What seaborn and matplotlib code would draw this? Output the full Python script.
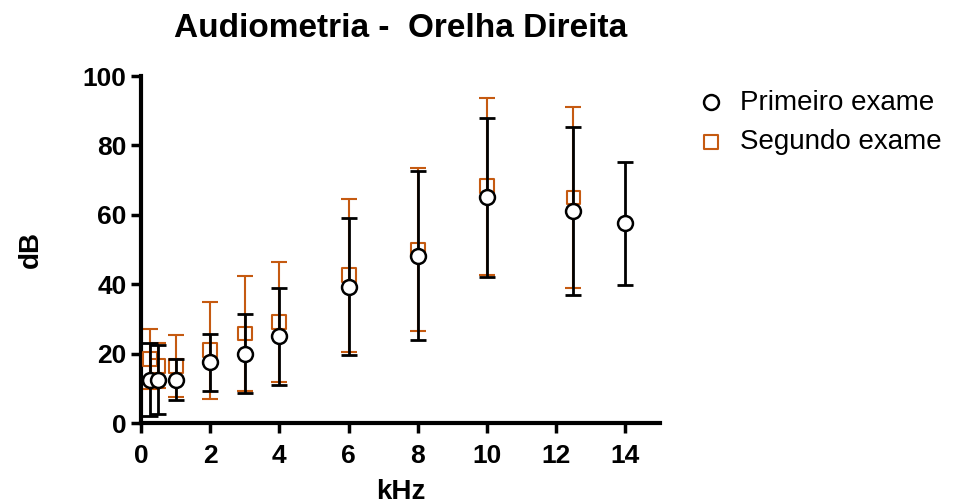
import matplotlib
matplotlib.use('Agg')
import matplotlib.pyplot as plt
import seaborn as sns
import pandas as pd

# Primeiro exame (mean +/- SD)
freq_1 = [0.25, 0.5, 1, 2, 3, 4, 6, 8, 10, 12.5, 14]
mean_1 = [12.5, 12.5, 12.5, 17.5, 20, 25, 39.3, 48.2, 65, 61.2, 57.5]
sd_1 = [10.5, 10, 6, 8.2, 11.3, 14, 19.8, 24.4, 23, 24.2, 17.7]

# Segundo exame (mean +/- SD)
freq_2 = [0.25, 0.5, 1, 2, 3, 4, 6, 8, 10, 12.5]
mean_2 = [18.5, 16.5, 16.5, 21, 25.8, 29.2, 42.6, 49.9, 68.2, 65]
sd_2 = [8.6, 6.5, 9, 14, 16.5, 17.3, 22, 23.5, 25.5, 26]

x_ticks = [0, 2, 4, 6, 8, 10, 12, 14]
y_ticks = [0, 20, 40, 60, 80, 100]

BLACK = '#000000'
ORANGE = '#C55A11'

sns.set_theme(style='ticks')
plt.rcParams['font.family'] = ['Liberation Sans', 'DejaVu Sans']
plt.rcParams['text.color'] = 'black'
plt.rcParams['axes.labelcolor'] = 'black'
plt.rcParams['xtick.color'] = 'black'
plt.rcParams['ytick.color'] = 'black'

df1 = pd.DataFrame({'kHz': freq_1, 'dB': mean_1, 'sd': sd_1})
df2 = pd.DataFrame({'kHz': freq_2, 'dB': mean_2, 'sd': sd_2})

fig = plt.figure(figsize=(9.57, 5.04), dpi=100)
ax = fig.add_axes([0.1473, 0.1607, 0.5423, 0.6885])

# Second exam drawn first (behind)
ax.errorbar(df2['kHz'], df2['dB'], yerr=df2['sd'], fmt='none',
            ecolor=ORANGE, elinewidth=1.5, capsize=6, capthick=1.5, zorder=2)
sns.scatterplot(data=df2, x='kHz', y='dB', ax=ax, marker='s', s=100,
                facecolor='none', edgecolor=ORANGE, linewidth=1.5,
                zorder=3, label='Segundo exame')

ax.errorbar(df1['kHz'], df1['dB'], yerr=df1['sd'], fmt='none',
            ecolor=BLACK, elinewidth=2, capsize=6, capthick=2, zorder=4)
sns.scatterplot(data=df1, x='kHz', y='dB', ax=ax, marker='o', s=115,
                facecolor='white', edgecolor=BLACK, linewidth=1.8,
                zorder=5, label='Primeiro exame')

ax.set_xlim(0, 15)
ax.set_ylim(0, 100)
ax.set_xticks(x_ticks)
ax.set_yticks(y_ticks)
ax.tick_params(axis='both', labelsize=19, width=2.5, length=7, direction='out')
ax.tick_params(axis='x', pad=8)
for lbl in ax.get_xticklabels() + ax.get_yticklabels():
    lbl.set_fontweight('bold')
sns.despine(ax=ax)
for side in ['left', 'bottom']:
    ax.spines[side].set_linewidth(3)
    ax.spines[side].set_color('black')

ax.set_xlabel('kHz', fontsize=20, fontweight='bold', labelpad=8)
ax.set_ylabel('dB', fontsize=20, fontweight='bold', labelpad=28)
ax.set_title('Audiometria -  Orelha Direita', fontsize=24, fontweight='bold',
             pad=28)

handles, labels = ax.get_legend_handles_labels()
order = [labels.index('Primeiro exame'), labels.index('Segundo exame')]
ax.legend([handles[i] for i in order], [labels[i] for i in order],
          loc='upper left', bbox_to_anchor=(1.05, 0.993), borderaxespad=0,
          frameon=False, fontsize=20, handlelength=1.0, handletextpad=0.55,
          labelspacing=0.5, markerscale=1.0)

fig.savefig('out.png', dpi=100)
